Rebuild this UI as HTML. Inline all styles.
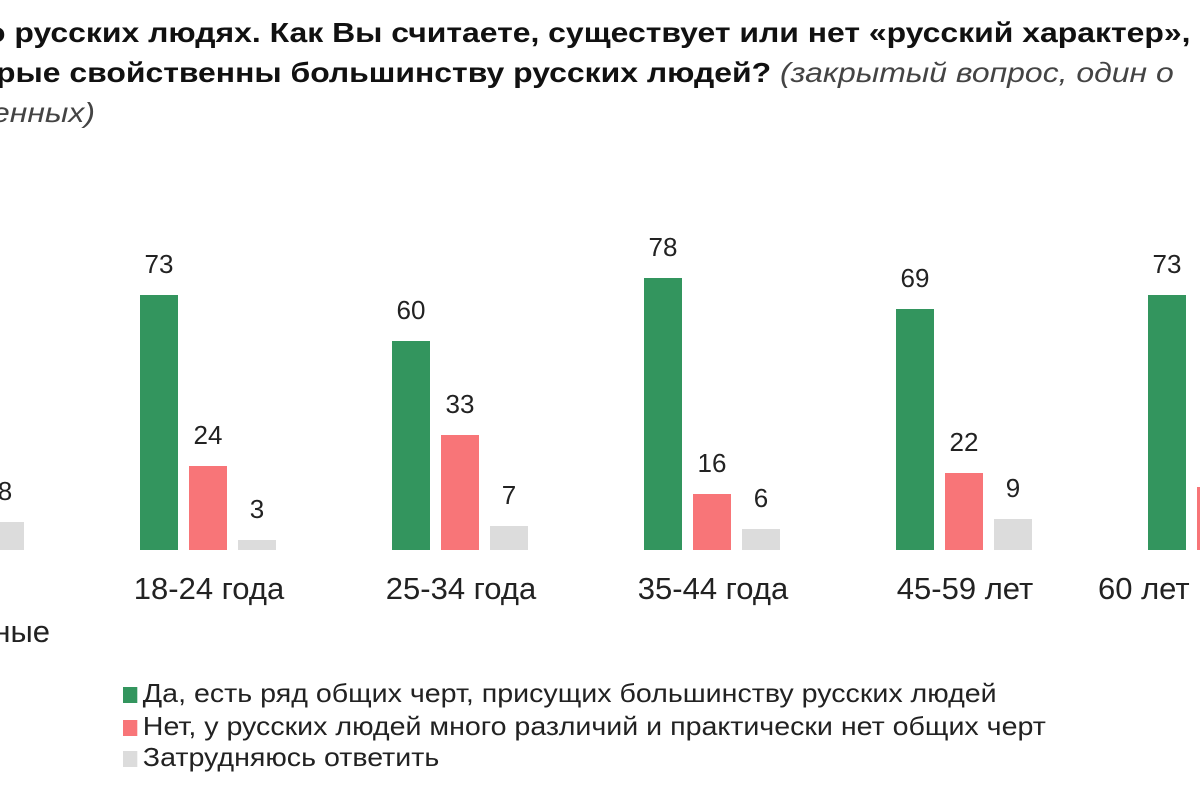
<!DOCTYPE html>
<html><head><meta charset="utf-8"><style>
body{margin:0;width:1200px;height:800px;overflow:hidden;background:#fff;position:relative;font-family:"Liberation Sans",sans-serif;color:#222}
.t{position:absolute;white-space:nowrap;font-size:28px;font-weight:bold;color:#111;transform:scaleX(1.14);transform-origin:0 0}
.t i{font-weight:normal;color:#444}
.b{position:absolute;width:38px}
.g{background:#33955e}.r{background:#f87578}.y{background:#dcdcdc}
.v{position:absolute;width:80px;text-align:center;font-size:26px;color:#222}
.c{position:absolute;width:260px;text-align:center;font-size:31px;color:#222;white-space:nowrap}
.l{position:absolute;left:123px;font-size:26px;white-space:nowrap;line-height:30px;transform:scaleX(1.1);transform-origin:0 0}
.l span{display:inline-block;width:13px;height:16px;margin-right:5px;vertical-align:-1px}
</style></head><body>
<div class="t" style="left:-14px;top:17px">о русских людях. Как Вы считаете, существует или нет «русский характер», то</div>
<div class="t" style="left:-4px;top:57px">рые свойственны большинству русских людей? <i>(закрытый вопрос, один о</i></div>
<div class="t" style="left:-8px;top:97px"><i>енных)</i></div>
<div id="ch"></div>
<div class="c" style="left:-200px;top:614px;width:250px;text-align:right">ные</div>
<div class="l" style="top:678px"><span class="g"></span>Да, есть ряд общих черт, присущих большинству русских людей</div>
<div class="l" style="top:711px"><span class="r"></span>Нет, у русских людей много различий и практически нет общих черт</div>
<div class="l" style="top:742px"><span class="y"></span>Затрудняюсь ответить</div>
<script>
var d=[[-112,[80,12,8],""],[140,[73,24,3],"18-24 года"],[392,[60,33,7],"25-34 года"],[644,[78,16,6],"35-44 года"],[896,[69,22,9],"45-59 лет"],[1148,[73,18,9],"60 лет и старше"]];
var h="",cl=["g","r","y"];
d.forEach(function(g){g[1].forEach(function(v,i){var x=g[0]+i*49,hh=v*3.49,top=550-hh;
h+='<div class="b '+cl[i]+'" style="left:'+x+'px;top:'+top+'px;height:'+hh+'px"></div>';
h+='<div class="v" style="left:'+(x-21)+'px;top:'+(top-46)+'px">'+v+'</div>';});
if(g[2])h+='<div class="c" style="'+(g[0]>1100?'text-align:left;left:'+(g[0]-50)+'px':'left:'+(g[0]+69-130)+'px')+';top:571px">'+g[2]+'</div>';});
document.getElementById("ch").innerHTML=h;
</script>
</body></html>
